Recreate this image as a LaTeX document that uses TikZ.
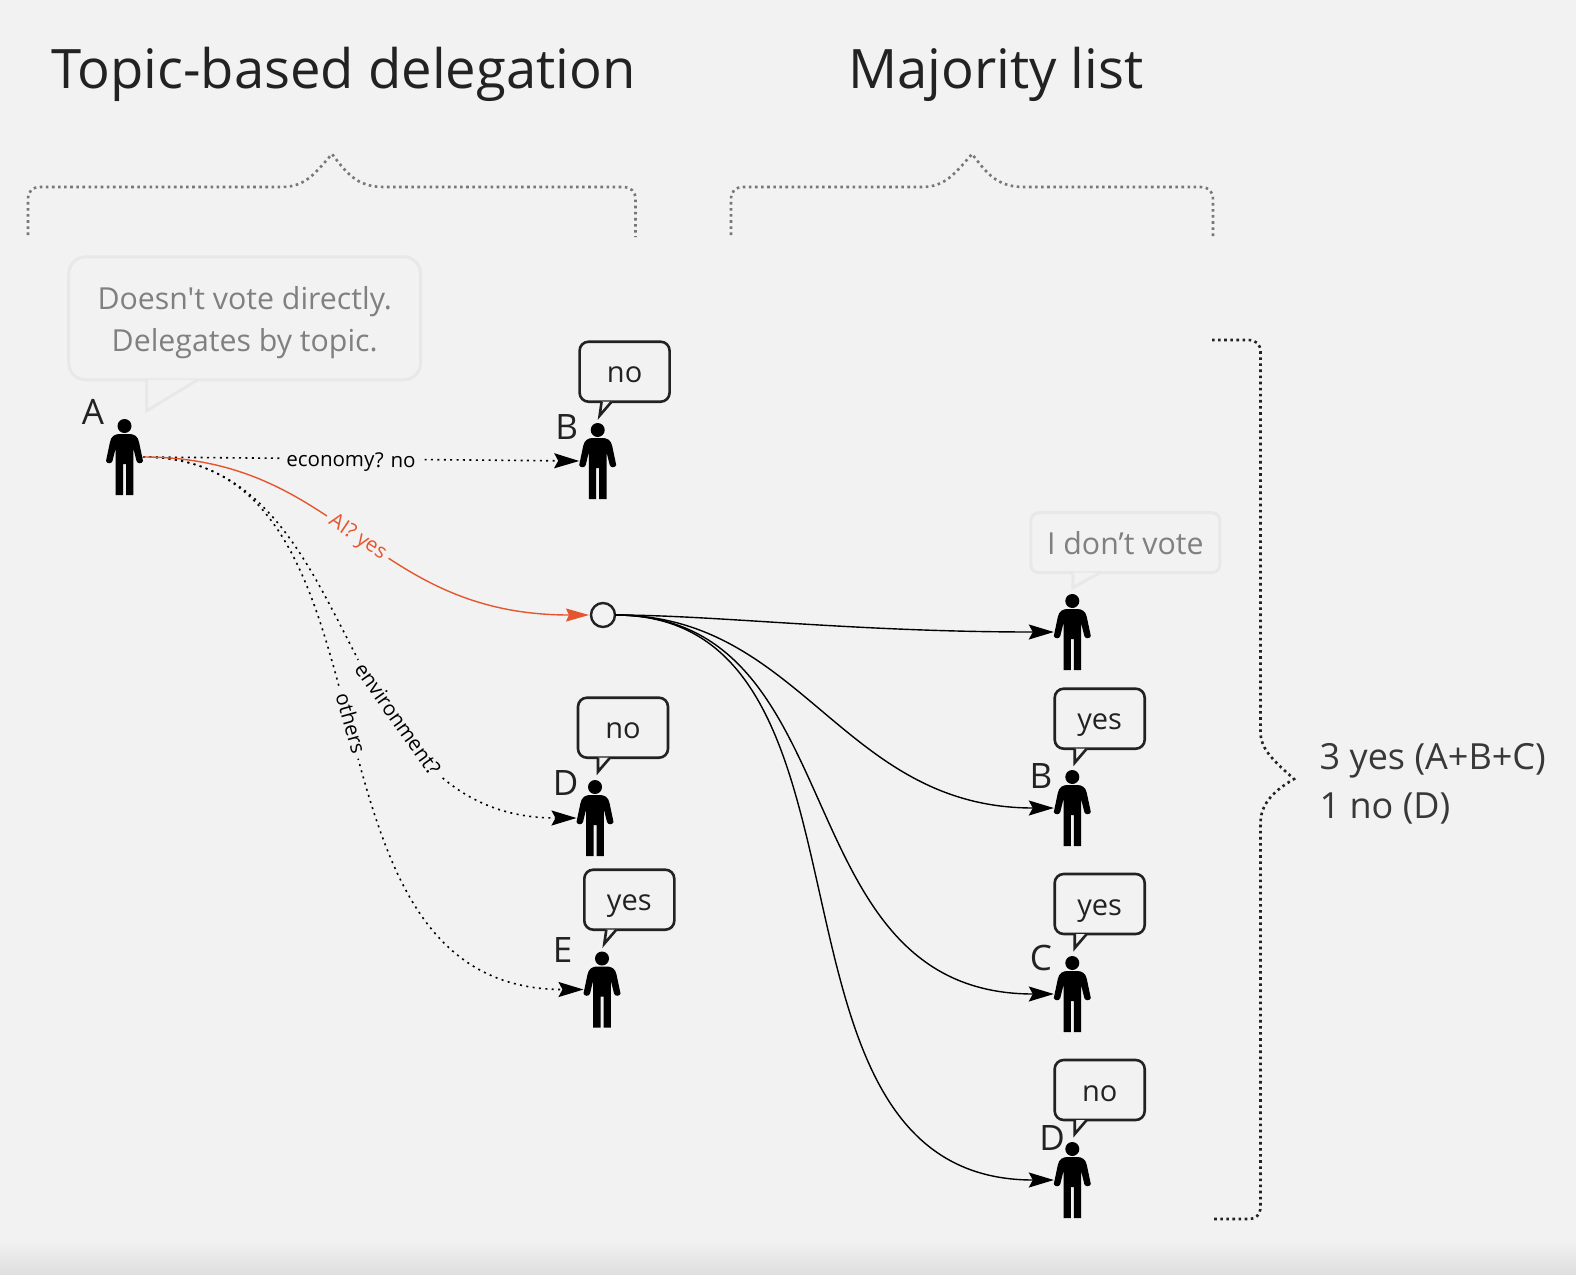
\documentclass[tikz,border=0pt]{standalone}
\usepackage{fontspec}
\setmainfont{Open Sans}
\newfontfamily\rectafont{Open Sans}
\usepackage{xcolor}
\usetikzlibrary{arrows.meta}
\definecolor{fondo}{HTML}{F2F2F2}
\definecolor{tinta}{HTML}{222222}
\definecolor{rojo}{HTML}{E5562F}
\definecolor{suave}{HTML}{E8E8E8}
\definecolor{apagado}{HTML}{808080}
\definecolor{llave}{HTML}{777777}
\newcommand{\px}[1]{\fontsize{#1}{#1}\selectfont}

\tikzset{
  person/.pic={
    \fill[black] (0,-31) circle[radius=7];
    \fill[black] (-1.5,38) -- (-1.5,7) -- (1.5,7) -- (1.5,38) -- (8.8,38) -- (8.8,-9)
      -- (12,4) .. controls (13,7) and (17.5,7) .. (18.5,4)
      -- (14.5,-15) .. controls (13.5,-21) and (9,-23) .. (5,-23) -- (-5,-23)
      .. controls (-9,-23) and (-13.5,-21) .. (-14.5,-15)
      -- (-18.5,4) .. controls (-17.5,7) and (-13,7) .. (-12,4)
      -- (-8.8,-9) -- (-8.8,38) -- cycle;
  }}

\begin{document}
\begin{tikzpicture}[x=1pt,y=-1pt,
  voter/.style={minimum width=37pt, minimum height=76pt, inner sep=0pt, outer sep=0pt},
  who/.style={font=\px{35}, text=tinta, inner sep=0pt},
  title/.style={font=\px{54.4}, text=tinta, anchor=base, inner sep=0pt},
  vote/.style={draw=tinta, line width=2.6pt, rounded corners=9pt, fill=fondo, minimum width=90pt,
               minimum height=60pt, inner sep=0pt, outer sep=0pt, text height=22pt, text depth=0pt,
               font=\px{29}, text=tinta},
  quiet/.style={draw=suave, line width=3pt, fill=fondo, inner sep=0pt, outer sep=0pt,
                font=\px{30.3}, text=apagado, align=center},
  tailblack/.style={draw=tinta, line width=2.6pt, fill=fondo, line join=miter},
  tailgrey/.style={draw=suave, line width=3pt, fill=fondo, line join=miter},
  topic/.style={-{Stealth[length=25pt,width=15pt,inset=4pt]}, black, line width=1.6pt,
                dash pattern=on 2pt off 4.4pt},
  flecha/.style={-{Stealth[length=25pt,width=15pt,inset=4pt]}, black, line width=1.4pt},
  flechaia/.style={-{Stealth[length=23pt,width=13pt,inset=3pt]}, rojo, line width=1.4pt},
  tag/.style={font=\px{20.5}, fill=fondo, inner sep=5pt, sloped},
  brace/.style={line width=2.6pt, dash pattern=on 2.6pt off 3.5pt}]

\useasboundingbox (0,0) rectangle (1576,1274);
\fill[fondo] (0,0) rectangle (1576,1274);
\shade[top color=fondo, bottom color=fondo!92!black] (0,1240) rectangle (1576,1274);

% titles
\node[title] (ttopic) at (343.5,88.5) {Topic-based delegation};
\node[title] (tmajor) at (996,88.5) {Majority list};

% braces
\draw[brace, llave] (28,235) -- (28,200) .. controls (28,191) and (32,187) .. (41,187) -- (282,187)
  .. controls (306,187) and (316,172) .. (332,154) .. controls (346,172) and (356,187) .. (384,187)
  -- (622,187) .. controls (631,187) and (635.5,191) .. (635.5,200) -- (635.5,237);
\draw[brace, llave] (731,235) -- (731,200) .. controls (731,191) and (735,187) .. (744,187) -- (922,187)
  .. controls (946,187) and (956,172) .. (972,154) .. controls (986,172) and (996,187) .. (1024,187)
  -- (1200,187) .. controls (1209,187) and (1213,191) .. (1213,200) -- (1213,237);
\draw[brace, tinta] (1212,340) -- (1248,340) .. controls (1256,340) and (1260.5,344) .. (1260.5,352) -- (1260.5,733)
  .. controls (1261,750) and (1275,762) .. (1294,779) .. controls (1275,790) and (1261,803) .. (1260.5,822)
  -- (1260.5,1206) .. controls (1260.5,1215) and (1256,1219) .. (1248,1219) -- (1214,1219);

% people on the left
\node[voter] (pa) at (124.5,457) {};
\node[voter] (pb) at (597.7,461) {};
\node[voter] (pd) at (595,818) {};
\node[voter] (pe) at (602,989.5) {};
% people on the right
\node[voter] (vn) at (1072.3,632) {};
\node[voter] (vb) at (1072.3,808) {};
\node[voter] (vc) at (1072.3,994) {};
\node[voter] (vd) at (1072.3,1180) {};
\foreach \quien in {pa,pb,pd,pe,vn,vb,vc,vd}
  \pic at (\quien) {person};

\node[who] (la) at (93,411.7) {A};
\node[who] (lb) at (566.7,427) {B};
\node[who] (ld) at (565.6,783) {D};
\node[who] (le) at (562.5,950) {E};
\node[who] (lvb) at (1041,776) {B};
\node[who] (lvc) at (1041,958) {C};
\node[who] (lvd) at (1052,1138) {D};

% speech bubbles
\node[quiet, rounded corners=17pt, minimum width=352pt, minimum height=123pt] (sa) at (244.7,318.3) {\rule{0pt}{31pt}{\rectafont Doesn't} vote directly.\\[12pt]Delegates by topic.};
\draw[tailgrey] ([xshift=78pt]sa.south west) -- ([xshift=78pt,yshift=-31pt]sa.south west) -- ([xshift=129pt]sa.south west);
\node[quiet, rounded corners=8pt, minimum width=189pt, minimum height=60pt, text height=23pt, text depth=0pt] (sn) at (1125.3,542.7) {I don’t vote};
\draw[tailgrey] ([xshift=42pt]sn.south west) -- ([xshift=42pt,yshift=-15pt]sn.south west) -- ([xshift=69pt]sn.south west);

\node[vote] (sb) at (624.6,371.7) {no};
\draw[tailblack] ([xshift=22pt]sb.south west) -- ([xshift=20pt,yshift=-14pt]sb.south west) -- ([xshift=32pt]sb.south west);
\node[vote] (sd) at (623,727.7) {no};
\draw[tailblack] ([xshift=20pt]sd.south west) -- ([xshift=20pt,yshift=-14pt]sd.south west) -- ([xshift=32pt]sd.south west);
\node[vote] (se) at (629.3,899.7) {yes};
\draw[tailblack] ([xshift=22pt]se.south west) -- ([xshift=20pt,yshift=-14pt]se.south west) -- ([xshift=32pt]se.south west);
\node[vote] (svb) at (1099.7,718.7) {yes};
\draw[tailblack] ([xshift=20pt]svb.south west) -- ([xshift=20pt,yshift=-14pt]svb.south west) -- ([xshift=32pt]svb.south west);
\node[vote] (svc) at (1099.7,904) {yes};
\draw[tailblack] ([xshift=20pt]svc.south west) -- ([xshift=20pt,yshift=-14pt]svc.south west) -- ([xshift=32pt]svc.south west);
\node[vote] (svd) at (1099.7,1090) {no};
\draw[tailblack] ([xshift=20pt]svd.south west) -- ([xshift=20pt,yshift=-14pt]svd.south west) -- ([xshift=32pt]svd.south west);

% the list
\node[circle, draw=tinta, line width=2.4pt, fill=fondo, minimum size=24pt, inner sep=0pt, outer sep=0pt] (lista) at (603,615) {};

% delegations
\draw[topic] (pa.east) -- node[tag, pos=.477, yshift=-3pt] {economy? no} (pb.west);
\draw[topic] (pa.east) .. controls +(275,0) and +(-307,0) .. node[tag, pos=.5] {others} (pe.west);
\draw[topic] (pa.east) .. controls +(224,0) and +(-252,0) .. node[tag, pos=.655] {environment?} (pd.west);
\draw[flechaia] (pa.east) .. controls +(200,0) and +(-220,0) .. node[tag, pos=.5, text=rojo, yshift=-2pt] {AI? yes} ([xshift=-2pt]lista.west);

\draw[flecha] (lista.east) .. controls +(100,0) and +(-200,0) .. (vn.west);
\draw[flecha] (lista.east) .. controls +(187,0) and +(-212,0) .. (vb.west);
\draw[flecha] (lista.east) .. controls +(244,0) and +(-274,0) .. (vc.west);
\draw[flecha] (lista.east) .. controls +(287,0) and +(-317,0) .. (vd.west);

% result
\node[font=\fontsize{36}{49}\selectfont, text=tinta!90, align=left, anchor=base west, inner sep=0pt] (res) at (1319.5,818) {3 yes (A+B+C)\\1 no (D)};
\end{tikzpicture}
\end{document}
